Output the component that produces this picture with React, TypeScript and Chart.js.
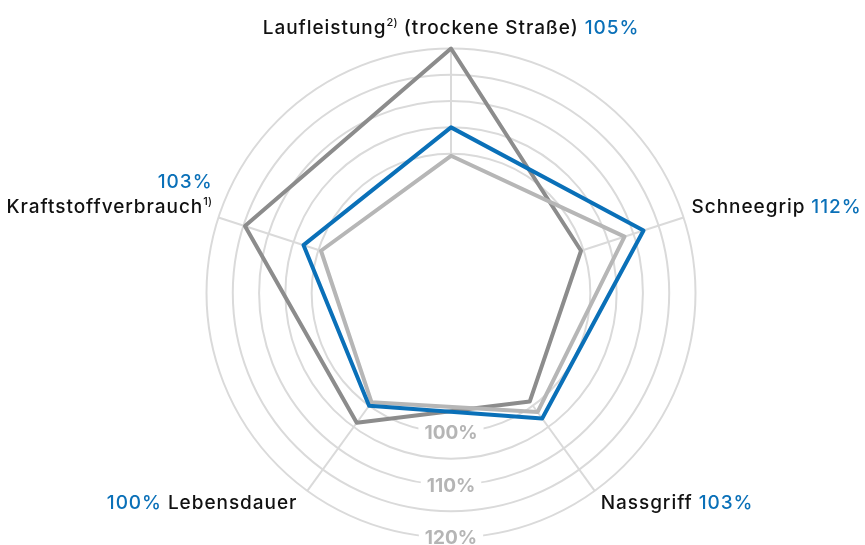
import { useEffect, useRef } from "react";
import { Chart, registerables } from "chart.js";

Chart.register(...registerables);

// ---- data ----
const categories = ["Laufleistung", "Schneegrip", "Nassgriff", "Lebensdauer", "Kraftstoffverbrauch"];
const categoryNotes = ["2)", "", "", "", "1)"];
const categorySuffix = [" (trockene Straße)", "", "", "", ""];
const blueValues = [105, 112, 103, 100, 103];
const darkValues = [120, 99.5, 99, 104, 114.7];
const lightValues = [99.6, 108.2, 101.5, 99.2, 99.5];
const gridValues = [100, 105, 110, 115, 120];
const tickLabelValues = [100, 110, 120];
const scaleMin = 73.5;
const scaleMax = 120;

const BLUE = "#0a70b8";
const DARK = "#8c8c8c";
const LIGHT = "#b6b6b6";
const GRID = "#dadada";
const TEXT = "#111111";
const TICK = "#b5b5b5";
const FONT = "Inter, 'Noto Sans', sans-serif";
const SPACING = "0.95px";

type Seg = { text: string; color: string; sup?: boolean };

function setFont(ctx: CanvasRenderingContext2D, s: Seg, size: number) {
  ctx.font = s.sup ? `500 ${Math.round(size * 0.6)}px ${FONT}` : `500 ${size}px ${FONT}`;
  (ctx as any).letterSpacing = s.sup ? "0.3px" : SPACING;
}

function measureSegs(ctx: CanvasRenderingContext2D, segs: Seg[], size: number) {
  let w = 0;
  for (const s of segs) {
    setFont(ctx, s, size);
    w += ctx.measureText(s.text).width;
  }
  return w;
}

function drawSegs(ctx: CanvasRenderingContext2D, segs: Seg[], x: number, y: number, align: "left" | "center" | "right", size: number) {
  const w = measureSegs(ctx, segs, size);
  let cx = align === "left" ? x : align === "center" ? x - w / 2 : x - w;
  ctx.textAlign = "left";
  ctx.textBaseline = "middle";
  for (const s of segs) {
    setFont(ctx, s, size);
    ctx.fillStyle = s.color;
    ctx.fillText(s.text, cx, s.sup ? y - size * 0.3 : y);
    cx += ctx.measureText(s.text).width;
  }
}

const radarDecor = {
  id: "radarDecor",
  beforeDatasetsDraw(chart: any) {
    const scale = chart.scales.r;
    const ctx: CanvasRenderingContext2D = chart.ctx;
    const n = categories.length;
    const rIn = scale.getDistanceFromCenterForValue(gridValues[0]);
    const rOut = scale.getDistanceFromCenterForValue(gridValues[gridValues.length - 1]);
    ctx.save();
    ctx.strokeStyle = GRID;
    ctx.lineWidth = 2;
    for (let i = 0; i < n; i++) {
      const a = scale.getPointPosition(i, rIn);
      const b = scale.getPointPosition(i, rOut);
      ctx.beginPath();
      ctx.moveTo(a.x, a.y);
      ctx.lineTo(b.x, b.y);
      ctx.stroke();
    }
    // tick labels below center
    ctx.font = `bold 19px ${FONT}`;
    (ctx as any).letterSpacing = "0px";
    ctx.textAlign = "center";
    ctx.textBaseline = "middle";
    for (const v of tickLabelValues) {
      const r = scale.getDistanceFromCenterForValue(v);
      const x = scale.xCenter;
      const y = scale.yCenter + r;
      const label = `${v}%`;
      const w = ctx.measureText(label).width;
      ctx.fillStyle = "#ffffff";
      ctx.fillRect(x - w / 2 - 6, y - 10, w + 12, 20);
      ctx.fillStyle = TICK;
      ctx.fillText(label, x, y + 1);
    }
    ctx.restore();
  },
  afterDraw(chart: any) {
    const scale = chart.scales.r;
    const ctx: CanvasRenderingContext2D = chart.ctx;
    const size = 19;
    const d = scale.drawingArea;
    ctx.save();
    const val = (i: number) => `${blueValues[i]}%`;
    const name = (i: number): Seg[] => {
      const s: Seg[] = [{ text: categories[i], color: TEXT }];
      if (categoryNotes[i]) s.push({ text: categoryNotes[i], color: TEXT, sup: true });
      if (categorySuffix[i]) s.push({ text: categorySuffix[i], color: TEXT });
      return s;
    };
    // 0 top
    let p = scale.getPointPosition(0, d);
    drawSegs(ctx, [...name(0), { text: " ", color: TEXT }, { text: val(0), color: BLUE }], p.x, p.y - 20, "center", size);
    // 1 right
    p = scale.getPointPosition(1, d);
    drawSegs(ctx, [...name(1), { text: " ", color: TEXT }, { text: val(1), color: BLUE }], p.x + 8, p.y - 10, "left", size);
    // 2 bottom right
    p = scale.getPointPosition(2, d);
    drawSegs(ctx, [...name(2), { text: " ", color: TEXT }, { text: val(2), color: BLUE }], p.x + 6, p.y + 12, "left", size);
    // 3 bottom left
    p = scale.getPointPosition(3, d);
    drawSegs(ctx, [{ text: val(3), color: BLUE }, { text: " ", color: TEXT }, ...name(3)], p.x - 10, p.y + 12, "right", size);
    // 4 left, two lines
    p = scale.getPointPosition(4, d);
    drawSegs(ctx, [{ text: val(4), color: BLUE }], p.x - 6, p.y - 35, "right", size);
    drawSegs(ctx, name(4), p.x - 6, p.y - 10, "right", size);
    ctx.restore();
  },
};

export default function App() {
  const ref = useRef<HTMLCanvasElement | null>(null);
  useEffect(() => {
    document.body.style.margin = "0";
    const canvas = ref.current;
    if (!canvas) return;
    const line = (data: number[], color: string) => ({
      data,
      borderColor: color,
      backgroundColor: "transparent",
      borderWidth: 4,
      borderJoinStyle: "round" as const,
      fill: false,
      tension: 0,
      pointRadius: 0,
      pointHoverRadius: 0,
    });
    const chart = new Chart(canvas, {
      type: "radar",
      data: {
        labels: categories,
        datasets: [line(blueValues, BLUE), line(lightValues, LIGHT), line(darkValues, DARK)],
      },
      options: {
        responsive: false,
        animation: false,
        events: [],
        layout: { padding: 0 },
        plugins: { legend: { display: false }, tooltip: { enabled: false } },
        scales: {
          r: {
            min: scaleMin,
            max: scaleMax,
            grid: { color: GRID, lineWidth: 2, circular: true },
            angleLines: { display: false },
            pointLabels: { display: false },
            ticks: { display: false },
            afterBuildTicks: (s: any) => {
              s.ticks = [scaleMin, ...gridValues].map((v) => ({ value: v }));
            },
            afterFit: (s: any) => {
              s.xCenter = 451;
              s.yCenter = 293;
              s.drawingArea = 244.5;
            },
          } as any,
        },
      },
      plugins: [radarDecor],
    });
    return () => chart.destroy();
  }, []);
  return <canvas ref={ref} width={865} height={545} style={{ display: "block" }} />;
}
